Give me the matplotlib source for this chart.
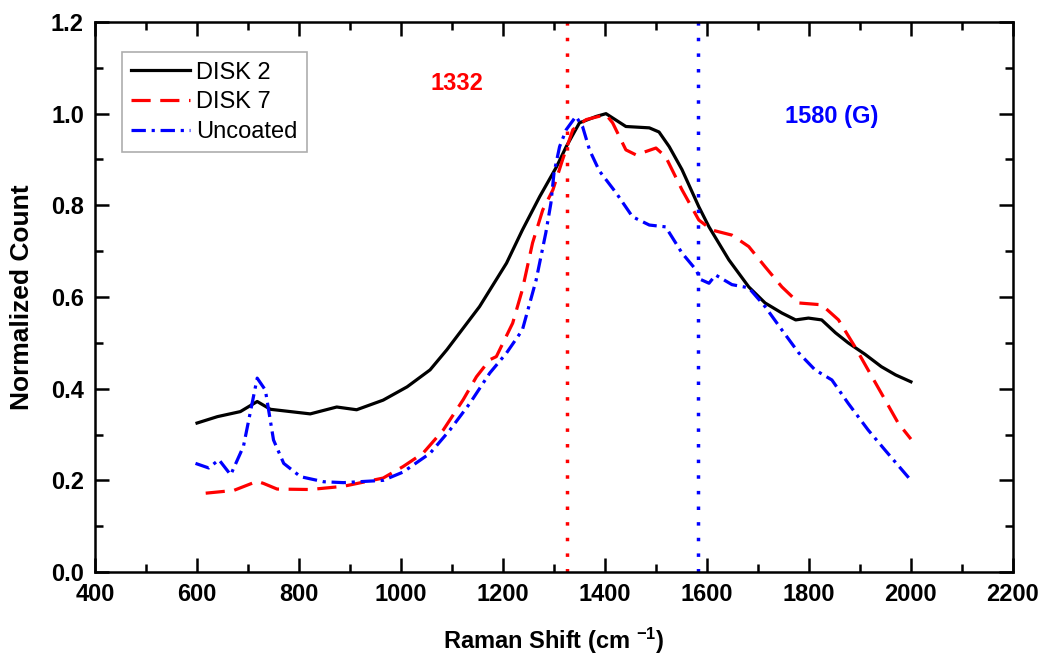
import numpy as np
import matplotlib
matplotlib.use('Agg')
import matplotlib.pyplot as plt

# spectra (Raman shift, normalized count)
disk2_x = [600, 640, 685, 718, 744, 783, 822, 874, 913, 965, 1012, 1057, 1090,
           1154, 1207, 1238, 1272, 1305, 1324, 1350, 1383, 1402, 1441, 1487,
           1506, 1526, 1551, 1584, 1604, 1643, 1682, 1714, 1747, 1774, 1799,
           1825, 1852, 1877, 1910, 1942, 1970, 2000]
disk2_y = [0.325, 0.339, 0.35, 0.372, 0.355, 0.35, 0.345, 0.36, 0.354, 0.375,
           0.404, 0.441, 0.485, 0.579, 0.674, 0.746, 0.819, 0.884, 0.928, 0.98,
           0.994, 1.0, 0.972, 0.969, 0.96, 0.928, 0.878, 0.797, 0.753, 0.681,
           0.622, 0.587, 0.565, 0.55, 0.554, 0.55, 0.522, 0.50, 0.475, 0.448,
           0.43, 0.415]

disk7_x = [617, 672, 718, 731, 757, 822, 887, 965, 1004, 1043, 1083, 1122, 1148,
           1174, 1187, 1219, 1238, 1258, 1278, 1298, 1317, 1337, 1363, 1402,
           1415, 1441, 1461, 1500, 1519, 1551, 1584, 1610, 1649, 1682, 1714,
           1747, 1780, 1825, 1858, 1891, 1942, 1975, 2000]
disk7_y = [0.172, 0.178, 0.198, 0.193, 0.181, 0.18, 0.187, 0.205, 0.23, 0.259,
           0.31, 0.376, 0.426, 0.463, 0.47, 0.543, 0.616, 0.718, 0.79, 0.834,
           0.9, 0.965, 0.987, 0.998, 0.98, 0.921, 0.91, 0.925, 0.906, 0.834,
           0.768, 0.746, 0.735, 0.71, 0.666, 0.622, 0.587, 0.583, 0.55, 0.49,
           0.39, 0.325, 0.29]

unc_x = [597, 623, 643, 666, 691, 718, 734, 750, 770, 803, 848, 887, 965, 1004,
         1057, 1096, 1135, 1174, 1207, 1238, 1265, 1284, 1294, 1300, 1311, 1324,
         1343, 1356, 1370, 1389, 1422, 1454, 1487, 1519, 1551, 1578, 1588, 1604,
         1617, 1649, 1682, 1714, 1747, 1780, 1812, 1845, 1877, 1916, 1950, 2000]
unc_y = [0.237, 0.227, 0.245, 0.212, 0.274, 0.423, 0.397, 0.288, 0.237, 0.208,
         0.197, 0.195, 0.2, 0.218, 0.259, 0.31, 0.368, 0.434, 0.478, 0.528,
         0.637, 0.74, 0.805, 0.87, 0.928, 0.965, 0.994, 0.972, 0.92, 0.875,
         0.827, 0.775, 0.757, 0.753, 0.696, 0.66, 0.638, 0.63, 0.648, 0.627,
         0.62, 0.579, 0.528, 0.478, 0.441, 0.419, 0.368, 0.31, 0.265, 0.2]

diamond_pos = 1325
g_pos = 1582

plt.rcParams['font.family'] = 'Liberation Sans'
plt.rcParams['mathtext.fontset'] = 'custom'
plt.rcParams['mathtext.rm'] = 'Liberation Sans:bold'
plt.rcParams['mathtext.default'] = 'rm'

fig = plt.figure(figsize=(10.49, 6.6), dpi=100)
ax = fig.add_axes([0.0906, 0.1333, 0.875, 0.8334])

ax.plot(disk2_x, disk2_y, color='black', lw=2.3, label='DISK 2')
ax.plot(disk7_x, disk7_y, color='red', lw=2.3, ls=(0, (6, 3)), label='DISK 7')
ax.plot(unc_x, unc_y, color='blue', lw=2.3, ls=(0, (4.5, 1.8, 1, 1.8)), label='Uncoated')

ax.axvline(diamond_pos, color='red', ls=(0, (1, 3.5)), lw=2.5)
ax.axvline(g_pos, color='blue', ls=(0, (1, 3.5)), lw=2.5)

ax.text(1109, 1.065, '1332', color='red', fontsize=17, fontweight='bold',
        ha='center', va='center')
ax.text(1844, 0.993, '1580 (G)', color='blue', fontsize=17, fontweight='bold',
        ha='center', va='center')

ax.set_xlim(400, 2200)
ax.set_ylim(0, 1.2)
ax.set_xticks(np.arange(400, 2201, 200))
ax.set_yticks(np.arange(0, 1.21, 0.2))
ax.set_xticks(np.arange(500, 2200, 200), minor=True)
ax.set_yticks(np.arange(0.1, 1.2, 0.2), minor=True)
ax.yaxis.set_major_formatter(plt.FormatStrFormatter('%.1f'))
ax.tick_params(which='both', direction='in', top=True, right=True, width=1.8)
ax.tick_params(which='major', length=10, labelsize=17, pad=8)
ax.tick_params(which='minor', length=6)
for lab in ax.get_xticklabels() + ax.get_yticklabels():
    lab.set_fontweight('bold')
for s in ax.spines.values():
    s.set_linewidth(1.8)

ax.set_xlabel(r'Raman Shift (cm $^{-1}$)', fontsize=17, fontweight='bold', labelpad=14)
ax.set_ylabel('Normalized Count', fontsize=19, fontweight='bold', labelpad=12)

leg = ax.legend(loc='upper left', bbox_to_anchor=(0.029, 0.945), borderaxespad=0,
                fontsize=17, fancybox=False, edgecolor='#999999', handlelength=2.5,
                handletextpad=0.25, borderpad=0.4, labelspacing=0.32)
leg.get_frame().set_linewidth(1.2)

plt.savefig('out.png', dpi=100)
